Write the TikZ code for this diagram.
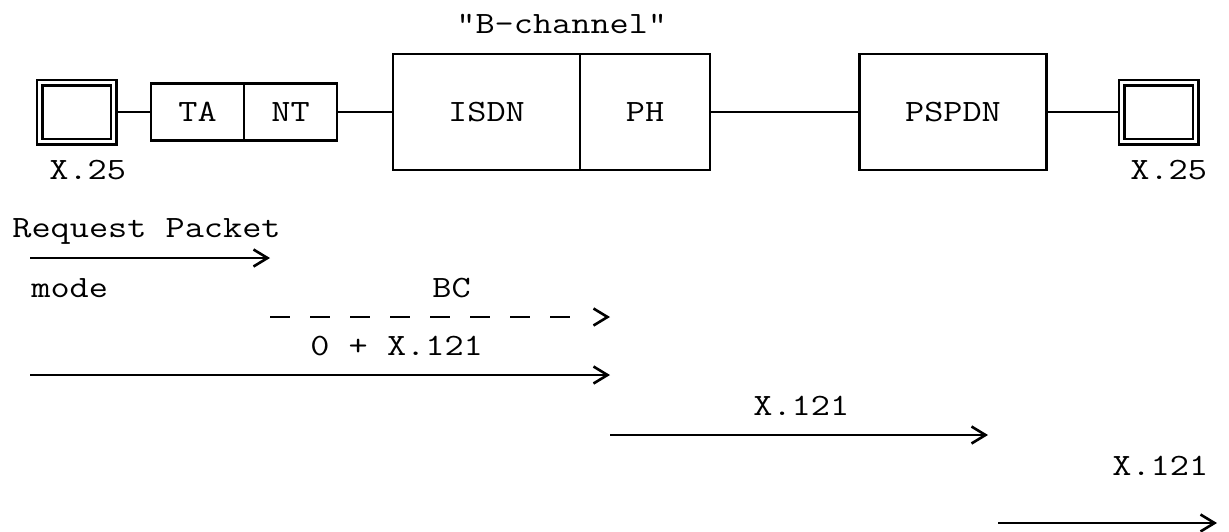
\documentclass[tikz,border=0pt]{standalone}
\usepackage{fontspec}
\setmonofont[FakeStretch=1.2]{Latin Modern Mono}
\usetikzlibrary{arrows.meta}

\begin{document}
\begin{tikzpicture}[x=1pt, y=-1pt, node distance=93pt, line width=2.8pt,
        font=\ttfamily\fontsize{31}{37}\selectfont]
        \tikzstyle{blk}=[draw, rectangle, minimum width=93pt, minimum height=57pt, inner sep=0pt, outer sep=0pt];
        \tikzstyle{big}=[blk, minimum width=187pt, minimum height=116pt];
        \tikzstyle{term}=[draw, rectangle, double=white, double distance=2.4pt, minimum width=74pt, minimum height=59pt, inner sep=0pt, outer sep=4pt];
        \tikzstyle{lbl}=[anchor=base west, inner sep=0pt];
        \tikzstyle{msg}=[-{Straight Barb[length=14pt, width=17pt]}, line width=2.6pt];

        \useasboundingbox (0,0) rectangle (1229,531);

        % the chain of equipment
        \node[term] (dte1) at (76.5,112) {};
        \node[blk] (ta) at (197.5,112) {TA};
        \node[blk, right of=ta] (nt) {NT};
        \node[big] (isdn) at (486.5,112) {ISDN};
        \node[big, minimum width=130pt, right of=isdn, node distance=158.5pt] (ph) {PH};
        \node[big] (pspdn) at (953,112) {PSPDN};
        \node[term] (dte2) at (1158.5,112) {};

        \draw[line width=2.6pt] (dte1) -- (ta);
        \draw[line width=2.6pt] (nt) -- (isdn);
        \draw[line width=2.6pt] (ph) -- (pspdn);
        \draw[line width=2.6pt] (pspdn) -- (dte2);

        \node[lbl] (bchan) at (455,33) {"B-channel"};
        \node[lbl] (x25l) at (48,179) {X.25};
        \node[lbl] (x25r) at (1129,179) {X.25};

        % call set-up messages
        \coordinate (m1a) at (30,258);
        \coordinate (m1b) at (270,258);
        \coordinate (m2a) at (270,317);
        \coordinate (m2b) at (610,317);
        \coordinate (m3a) at (30,375);
        \coordinate (m3b) at (610,375);
        \coordinate (m4a) at (610,435);
        \coordinate (m4b) at (988,435);
        \coordinate (m5a) at (998,523);
        \coordinate (m5b) at (1217,523);

        \node[lbl] (req) at (11,237) {Request Packet};
        \draw[msg] (m1a) -- (m1b);
        \node[lbl] (mode) at (30,297) {mode};
        \node[lbl] (bc) at (431,297) {BC};
        % eight dashes, then a gap before the tip
        \draw[msg, dash pattern=on 20pt off 20pt on 20pt off 20pt on 20pt off 20pt on 20pt off 20pt
            on 20pt off 20pt on 20pt off 20pt on 20pt off 20pt on 20pt off 80pt] (m2a) -- (m2b);
        \node[lbl] (addr) at (309,355) {0 + X.121};
        \draw[msg] (m3a) -- (m3b);
        \node[lbl] (x121a) at (752,415) {X.121};
        \draw[msg] (m4a) -- (m4b);
        \node[lbl] (x121b) at (1111,475) {X.121};
        \draw[msg] (m5a) -- (m5b);
    \end{tikzpicture}
\end{document}
